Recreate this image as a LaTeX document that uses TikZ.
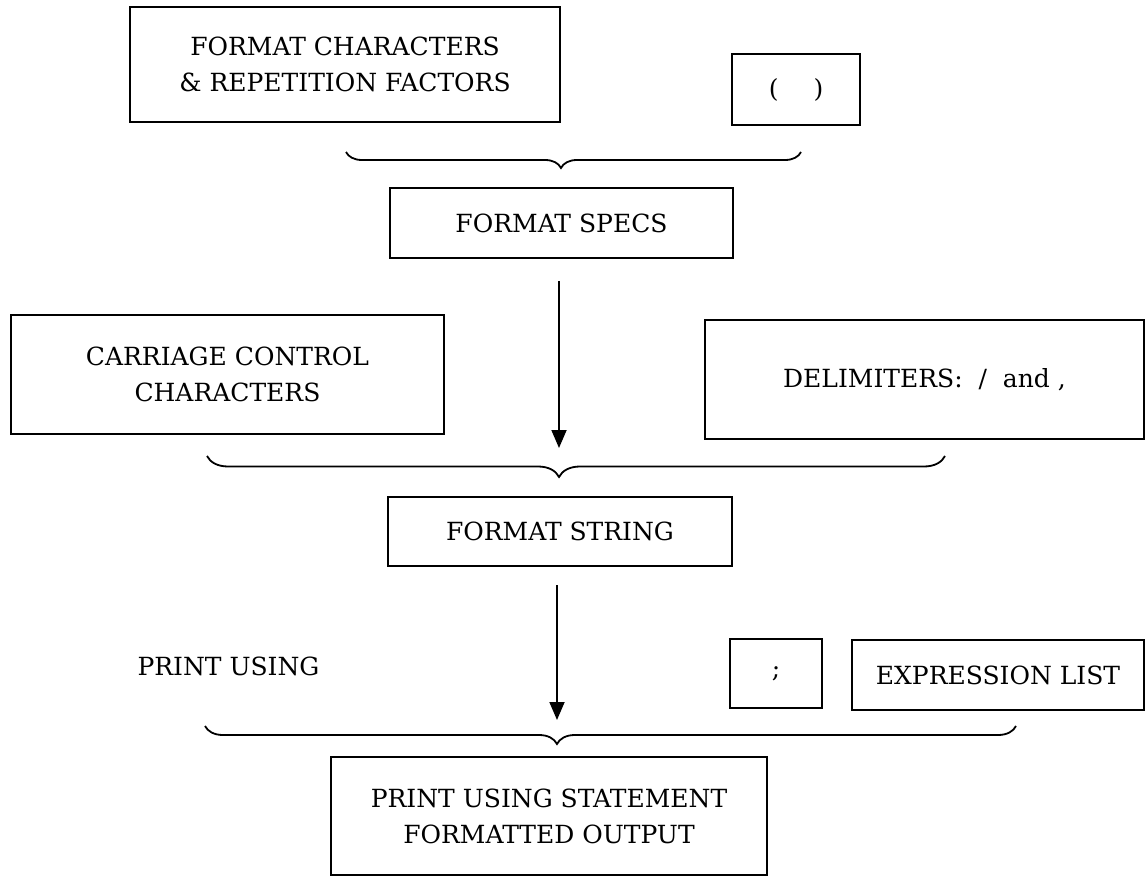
\documentclass[tikz,border=0pt]{standalone}
\usepackage{fontspec}
\setmainfont{DejaVu Serif}
\usetikzlibrary{arrows.meta,decorations.pathreplacing}
\begin{document}
\begin{tikzpicture}[x=1pt,y=-1pt,
  txt/.style={inner sep=0pt, align=center, font=\fontsize{25}{36}\selectfont},
  box/.style={txt, draw, line width=2.4pt},
  brc/.style={line width=1.8pt, decorate},
  arr/.style={line width=1.8pt, -{Triangle[length=18pt,width=15pt]}}]
\useasboundingbox (0,0) rectangle (1146,877);
% boxes
\node[box, minimum width=430pt, minimum height=115pt] (fc) at (345,64.5) {FORMAT CHARACTERS\\\& REPETITION FACTORS};
\node[box, minimum width=128pt, minimum height=71pt] (par) at (796,89.5) {(\hspace{35pt})};
\node[box, minimum width=343pt, minimum height=70pt] (specs) at (561.5,223) {FORMAT SPECS};
\node[box, minimum width=433pt, minimum height=119pt] (cc) at (227.5,374.5) {CARRIAGE CONTROL\\CHARACTERS};
\node[box, minimum width=439pt, minimum height=119pt] (del) at (924.5,379.5) {DELIMITERS:\ \ /\ \ and\ ,};
\node[box, minimum width=344pt, minimum height=69pt] (fs) at (560,531.5) {FORMAT STRING};
\node[txt] (pu) at (228.5,666) {PRINT USING};
\node[box, minimum width=92pt, minimum height=69pt] (semi) at (776,673.5) {;};
\node[box, minimum width=292pt, minimum height=70pt] (expr) at (998,675) {EXPRESSION LIST};
\node[box, minimum width=436pt, minimum height=118pt] (out) at (549,816) {PRINT USING STATEMENT\\FORMATTED OUTPUT};
% brace end points
\coordinate (b1l) at (346,152); \coordinate (b1r) at (801,152);
\coordinate (b2l) at (207,456); \coordinate (b2r) at (945,456);
\coordinate (b3l) at (205,726); \coordinate (b3r) at (1016,726);
\draw[brc, decoration={brace, mirror, amplitude=16pt, aspect=0.4725}] (b1l) -- (b1r);
\draw[brc, decoration={brace, mirror, amplitude=21pt, aspect=0.477}] (b2l) -- (b2r);
\draw[brc, decoration={brace, mirror, amplitude=18pt, aspect=0.434}] (b3l) -- (b3r);
% arrows
\coordinate (a1s) at (559,281); \coordinate (a1e) at (559,448);
\coordinate (a2s) at (557,585); \coordinate (a2e) at (557,720);
\draw[arr] (a1s) -- (a1e);
\draw[arr] (a2s) -- (a2e);
\end{tikzpicture}
\end{document}
